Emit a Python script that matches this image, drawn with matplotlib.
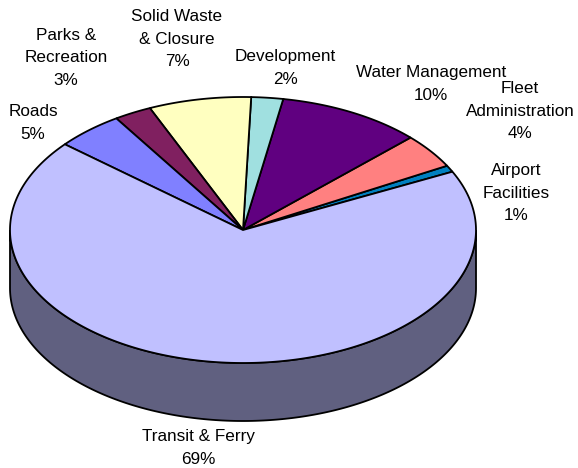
import matplotlib
matplotlib.use("Agg")
import matplotlib.pyplot as plt
from matplotlib.patches import Polygon
import numpy as np

# slices in counter-clockwise order, starting at the Airport edge
labels = ["Airport\nFacilities", "Fleet\nAdministration", "Water Management",
          "Development", "Solid Waste\n& Closure", "Parks &\nRecreation",
          "Roads", "Transit & Ferry"]
values = [0.8, 4.2, 10.0, 2.2, 7.1, 2.6, 4.7, 68.3]
pct_text = ["1%", "4%", "10%", "2%", "7%", "3%", "5%", "69%"]
colors = ["#0080C0", "#FF8080", "#600080", "#A0E0E0", "#FFFFC0",
          "#802060", "#8080FF", "#C0C0FF"]
label_pos = [(516, 193), (520, 111), (431, 84), (285, 68), (177, 39),
             (66, 58), (33, 123), (198, 448)]

cx, cy = 243, 230
rx, ry = 233, 133
depth = 58
start = 26.0

plt.rcParams['font.family'] = ['Liberation Sans', 'DejaVu Sans']

fig = plt.figure(figsize=(5.78, 4.68), dpi=100)
ax = fig.add_axes([0, 0, 1, 1])
ax.set_xlim(0, 578)
ax.set_ylim(468, 0)
ax.axis('off')


def pt(theta, dy=0):
    t = np.radians(theta)
    return cx + rx * np.cos(t), cy - ry * np.sin(t) + dy


def shade(c, f=0.5):
    rgb = np.array(matplotlib.colors.to_rgb(c))
    return tuple(rgb * f)


fracs = np.array(values) / sum(values) * 360
edges = start + np.concatenate([[0], np.cumsum(fracs)])

# side walls (only the front half, 180..360 deg, is visible)
for i in range(len(values)):
    a0, a1 = edges[i], edges[i + 1]
    for off in (0, 360, -360):
        lo = max(a0 + off, 180)
        hi = min(a1 + off, 360)
        if hi > lo:
            th = np.linspace(lo, hi, 200)
            top = [pt(t) for t in th]
            bot = [pt(t, depth) for t in th[::-1]]
            ax.add_patch(Polygon(top + bot, closed=True, facecolor=shade(colors[i]),
                                 edgecolor='black', linewidth=1.3, zorder=1))

# top face wedges
for i in range(len(values)):
    th = np.linspace(edges[i], edges[i + 1], max(int(fracs[i] * 3), 4))
    verts = [(cx, cy)] + [pt(t) for t in th]
    ax.add_patch(Polygon(verts, closed=True, facecolor=colors[i],
                         edgecolor='black', linewidth=1.3, joinstyle='miter', zorder=2))

for i in range(len(values)):
    x, y = label_pos[i]
    ax.text(x, y, labels[i] + "\n" + pct_text[i], ha='center', va='center',
            fontsize=12.3, linespacing=1.62, color='black', zorder=3)

fig.savefig("out.png", dpi=100)
